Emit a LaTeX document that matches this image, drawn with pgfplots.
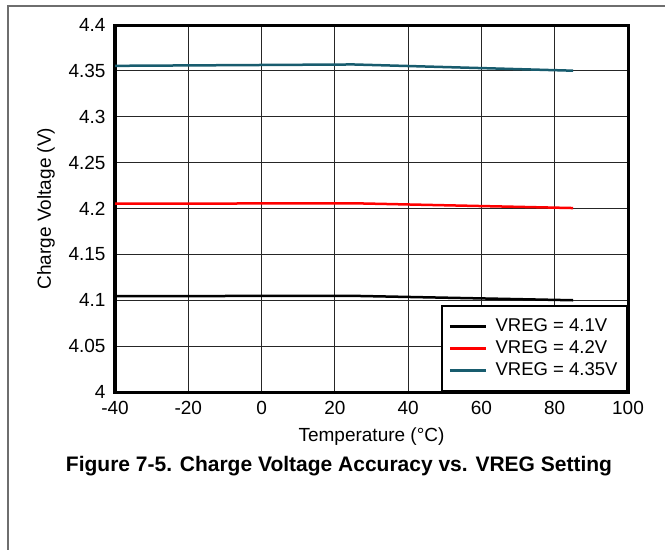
\documentclass[border=0pt]{standalone}
\usepackage{fontspec}
\setmainfont{Liberation Sans}
\usepackage{pgfplots}
\pgfplotsset{compat=1.18}
\definecolor{vregteal}{RGB}{24,92,110}
\definecolor{framegray}{RGB}{110,110,110}
\newcommand{\lblfont}{\fontsize{19bp}{22bp}\selectfont}
\newcommand{\legfont}{\fontsize{18.5bp}{21bp}\selectfont}
\begin{document}
\begin{tikzpicture}
\useasboundingbox (0bp,0bp) rectangle (665bp,-550bp);
\draw[framegray, line width=1.5bp] (8bp,-550bp) -- (8bp,-6bp) -- (665bp,-6bp);
\begin{axis}[
    at={(115bp,-392bp)}, anchor=south west,
    scale only axis, width=513bp, height=367bp,
    xmin=-40, xmax=100, ymin=4, ymax=4.4,
    xtick={-40,-20,0,20,40,60,80,100},
    xticklabels={-40,-20,0,20,40,60,80,100},
    ytick={4,4.05,4.1,4.15,4.2,4.25,4.3,4.35,4.4},
    yticklabels={4,4.05,4.1,4.15,4.2,4.25,4.3,4.35,4.4},
    major tick length=0pt,
    grid=major,
    major grid style={black!85, line width=0.8bp},
    axis line style={line width=3bp},
    tick label style={font=\lblfont},
    xticklabel style={yshift=-6bp},
    yticklabel style={xshift=-6bp},
    label style={font=\lblfont},
    xlabel={Temperature (°C)},
    ylabel={Charge Voltage (V)},
    xlabel style={at={(axis description cs:0.5,-0.1226)}, anchor=center},
    ylabel style={at={(axis description cs:-0.1345,0.5)}, anchor=center},
    legend cell align=left,
    legend style={at={(1,0)}, anchor=south east, draw=black, line width=2bp,
        font=\legfont, inner xsep=7bp, inner ysep=9.5bp, column sep=6bp,
        nodes={inner sep=2.5bp, text height=13bp, text depth=4bp}},
    legend image code/.code={\draw[#1] (0bp,0bp) -- (36bp,0bp);},
]
\addplot[black, line width=2.5bp] coordinates {(-40,4.1045) (25,4.1048) (85,4.1000)};
\addplot[red, line width=2.5bp] coordinates {(-40,4.2052) (25,4.2057) (85,4.2005)};
\addplot[vregteal, line width=2.5bp] coordinates {(-40,4.3555) (25,4.3570) (85,4.3502)};
\legend{VREG = 4.1V, VREG = 4.2V, VREG = 4.35V}
\end{axis}
\node[font=\bfseries\fontsize{21bp}{24bp}\selectfont] at (339bp,-466bp) {Figure 7-5. Charge Voltage Accuracy vs. VREG Setting};
\end{tikzpicture}
\end{document}
